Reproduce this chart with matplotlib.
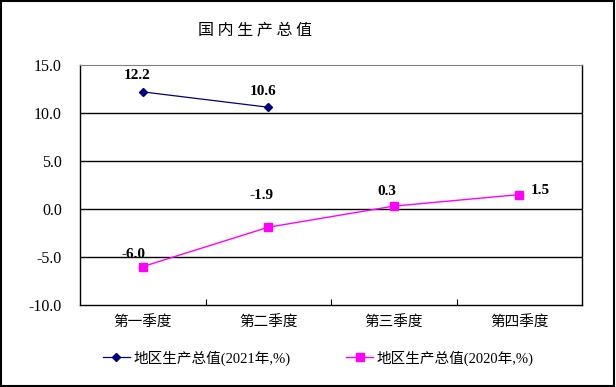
import matplotlib
matplotlib.use("Agg")
import matplotlib.pyplot as plt
from matplotlib.patches import Rectangle

plt.rcParams['font.family'] = ['Liberation Serif', 'Noto Sans CJK SC', 'DejaVu Sans']

title = "国 内 生 产 总 值"
categories = ["第一季度", "第二季度", "第三季度", "第四季度"]
series_2021 = [12.2, 10.6]
series_2020 = [-6.0, -1.9, 0.3, 1.5]
name_2021 = "地区生产总值(2021年,%)"
name_2020 = "地区生产总值(2020年,%)"
yticks = [-10.0, -5.0, 0.0, 5.0, 10.0, 15.0]

fig = plt.figure(figsize=(6.16, 3.87), dpi=100)
ax = fig.add_axes([80/616, 1-305/387, 502/616, 240/387])

x21 = list(range(len(series_2021)))
x20 = list(range(len(series_2020)))
ax.plot(x21, series_2021, color='#000080', lw=0.9, marker='D', ms=4.5,
        label=name_2021, zorder=3)
ax.plot(x20, series_2020, color='#FF00FF', lw=1.0, marker='s', ms=5.5,
        label=name_2020, zorder=3)

ax.set_xlim(-0.5, len(categories) - 0.5)
ax.set_ylim(-10, 15)
ax.set_yticks(yticks)
ax.set_yticklabels([f"{v:.1f}" for v in yticks], fontsize=11.5)
ax.tick_params(axis='y', length=0, pad=13)
for v in yticks[1:-1]:
    ax.axhline(v, color='black', lw=1.0, zorder=1)

ax.set_xticks([i + 0.5 for i in range(len(categories) - 1)])
ax.set_xticklabels([])
ax.set_xticks(range(len(categories)), minor=True)
ax.set_xticklabels(categories, minor=True, fontsize=10.5)
ax.tick_params(axis='x', which='major', direction='in', length=4, width=0.8)
ax.tick_params(axis='x', which='minor', length=0, pad=8)

for s in ['left', 'bottom', 'right']:
    ax.spines[s].set_color('black')
    ax.spines[s].set_linewidth(1.0)
ax.spines['top'].set_color('#808080')

lab_kw = dict(fontsize=11, fontweight='bold', family='Liberation Serif')
for i, v in enumerate(series_2021):
    ax.annotate(f"{v:.1f}", (i, v), xytext=(-4, 7), textcoords='offset points',
                ha='center', va='bottom', **lab_kw)
offsets_2020 = [(-7, 4), (-5, 18), (-5, 6), (8, -2)]
has_2020 = ['center', 'center', 'center', 'left']
for i, v in enumerate(series_2020):
    ax.annotate(f"{v:.1f}", (i, v), xytext=offsets_2020[i], textcoords='offset points',
                ha=has_2020[i], va='bottom', **lab_kw)

leg = fig.legend(loc='center', bbox_to_anchor=(318/616, 1-358/387), ncol=2,
                 frameon=False, fontsize=10.5, handlelength=1.9, columnspacing=3.8,
                 handletextpad=0.2)

fig.text(255/616, 1-30/387, title, ha='center', va='center', fontsize=11.5,
         family=['Noto Sans CJK SC'])

fig.patches.append(Rectangle((0.002, 0.003), 0.995, 0.994, transform=fig.transFigure,
                             fill=False, edgecolor='black', lw=1.5))

fig.savefig("out.png", dpi=100)
